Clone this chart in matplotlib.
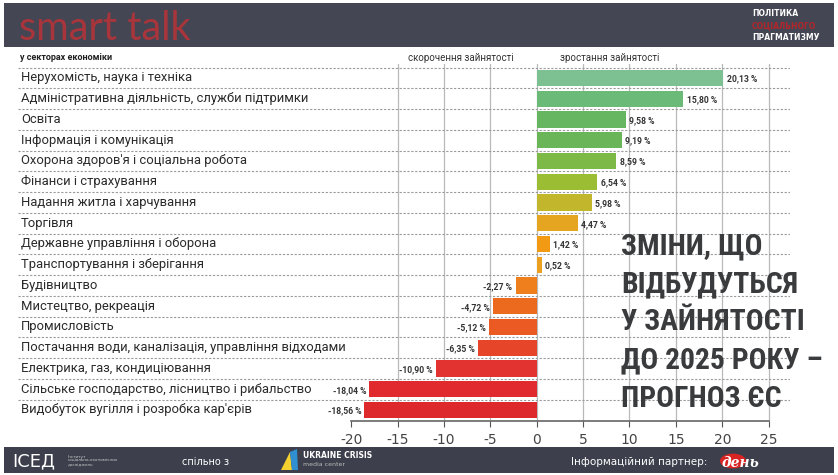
import matplotlib.pyplot as plt
from matplotlib import font_manager
from matplotlib.patches import Rectangle, Circle, Polygon

# Sector employment change to 2025 (EU forecast), %
sectors = [
    "Нерухомість, наука і техніка",
    "Адміністративна діяльність, служби підтримки",
    "Освіта",
    "Інформація і комунікація",
    "Охорона здоров'я і соціальна робота",
    "Фінанси і страхування",
    "Надання житла і харчування",
    "Торгівля",
    "Державне управління і оборона",
    "Транспортування і зберігання",
    "Будівництво",
    "Мистецтво, рекреація",
    "Промисловість",
    "Постачання води, каналізація, управління відходами",
    "Електрика, газ, кондиціювання",
    "Сільське господарство, лісництво і рибальство",
    "Видобуток вугілля і розробка кар'єрів",
]
values = [20.13, 15.80, 9.58, 9.19, 8.59, 6.54, 5.98, 4.47, 1.42, 0.52,
          -2.27, -4.72, -5.12, -6.35, -10.90, -18.04, -18.56]
bar_colors = ["#7dc192", "#6cba78", "#66b560", "#6ab558", "#7cb946", "#9bbd34",
              "#c2b62c", "#e5a520", "#f39a14", "#eba01f", "#ef7f1c", "#ec6a1e",
              "#ea5a22", "#e6452a", "#e33331", "#e02a2d", "#dd292c"]
xticks = [-20, -15, -10, -5, 0, 5, 10, 15, 20, 25]
title_lines = ["ЗМІНИ, ЩО", "ВІДБУДУТЬСЯ", "У ЗАЙНЯТОСТІ", "ДО 2025 РОКУ –", "ПРОГНОЗ ЄС"]

# pick a narrow font for the big title if one is installed
installed = {f.name for f in font_manager.fontManager.ttflist}
title_font, title_size = "Roboto", 17
for cand, size in [("Roboto Condensed", 21.3), ("Liberation Sans Narrow", 19),
                   ("DejaVu Sans Condensed", 17)]:
    if cand in installed:
        title_font, title_size = cand, size
        break

W, H = 838, 475
fig = plt.figure(figsize=(W / 100, H / 100), dpi=100)
fig.patch.set_facecolor("white")


def fx(x):
    return x / W


def fy(y):
    return 1 - y / H


def ftext(x, y, s, **kw):
    fig.text(fx(x), fy(y), s, transform=fig.transFigure, **kw)


# header band
fig.patches.append(Rectangle((fx(4), fy(47)), fx(830), 44 / H, transform=fig.transFigure,
                             facecolor="#444653", edgecolor="none", zorder=0))
ftext(19, 28, "smart talk", color="#a8353b", fontsize=28.5, family="Lato",
      fontweight="normal", va="center")
ftext(752, 14, "ПОЛІТИКА", color="white", fontsize=5.5, fontweight="bold", va="center")
ftext(752, 26, "СОЦІАЛЬНОГО", color="#b3262b", fontsize=5.5, fontweight="bold", va="center")
ftext(752, 38, "ПРАГМАТИЗМУ", color="white", fontsize=5.5, fontweight="bold", va="center")

# sub-header
ftext(20, 58, "у секторах економіки", color="#222222", fontsize=6.5, fontweight="bold",
      va="center", family="Roboto")
ftext(461, 58, "скорочення зайнятості", color="#333333", fontsize=7, va="center",
      ha="center", family="Roboto")
ftext(610, 58, "зростання зайнятості", color="#333333", fontsize=7, va="center",
      ha="center", family="Roboto")

# chart
ax = fig.add_axes([fx(18), fy(421), fx(790 - 18), (421 - 64) / H])
ypos = list(range(len(sectors)))
ax.barh(ypos, values, height=0.78, color=bar_colors, zorder=3)
ax.set_xlim(-55.9, 27.3)
ax.set_ylim(16.53, -0.67)

for g in xticks[1:]:
    ax.axvline(g, color="#b9b9b9", lw=0.9, zorder=1)
for b in range(len(sectors)):
    ax.axhline(b - 0.5, color="#9a9a9a", lw=0.8, ls=(0, (2, 1.5)), zorder=2)

for i, (name, v) in enumerate(zip(sectors, values)):
    ax.text(-55.6, i, name, va="center", ha="left", fontsize=9.4, color="#2a2a2a",
            family="Roboto")
    lab = f"{v:.2f}".replace(".", ",") + " %"
    if v >= 0:
        ax.text(v + 0.35, i + 0.05, lab, va="center", ha="left", fontsize=6.2,
                fontweight="bold", color="#333333", zorder=4, family="Roboto")
    else:
        ax.text(v - 0.35, i + 0.05, lab, va="center", ha="right", fontsize=6.2,
                fontweight="bold", color="#333333", zorder=4, family="Roboto")

for s in ["top", "right", "left", "bottom"]:
    ax.spines[s].set_visible(False)
ax.set_yticks([])
ax.set_xticks(xticks)
ax.set_xticklabels([str(t) for t in xticks], fontsize=10, color="#444444")
ax.tick_params(axis="x", length=4, width=0.8, color="#555555", pad=5)
ax.plot([-20, 25], [16.53, 16.53], color="#666666", lw=1.2, clip_on=False, zorder=5)

# big title
for k, line in enumerate(title_lines):
    ftext(621, 246 + k * 38.2, line, color="#3a3b3d", fontsize=title_size,
          fontweight="bold", va="center", ha="left",
          family=[title_font, "DejaVu Sans"], zorder=10)

# footer band
fig.patches.append(Rectangle((fx(4), fy(473)), fx(830), 26 / H, transform=fig.transFigure,
                             facecolor="#3d3f4c", edgecolor="none", zorder=0))
ftext(12, 461, "ІСЕД", color="white", fontsize=13, va="center")
ftext(68, 461, "Інститут\nсоціально-економічних\nдосліджень", color="#cccccc",
      fontsize=3, va="center", linespacing=1.1)
ftext(182, 462, "спільно з", color="white", fontsize=7, va="center")
fig.patches.append(Polygon([(fx(281), fy(470)), (fx(290), fy(452)), (fx(292), fy(470))],
                           closed=True, transform=fig.transFigure, facecolor="#f5d130",
                           edgecolor="none"))
fig.patches.append(Polygon([(fx(290), fy(452)), (fx(297), fy(449)), (fx(298), fy(470)),
                            (fx(292), fy(470))], closed=True, transform=fig.transFigure,
                           facecolor="#2f8fd0", edgecolor="none"))
ftext(303, 456, "UKRAINE CRISIS", color="white", fontsize=5.5, fontweight="bold", va="center")
ftext(303, 465, "media center", color="#bbbbbb", fontsize=4.5, va="center")
ftext(571, 462, "Інформаційний партнер:", color="white", fontsize=7.5, va="center")
fig.patches.append(Circle((fx(733), fy(461)), 13 / W, transform=fig.transFigure,
                          facecolor="#d92424", edgecolor="none"))
ftext(722, 463, "день", color="white", fontsize=10, fontweight="bold", fontstyle="italic",
      family="DejaVu Serif", va="center")

fig.savefig("out.png", dpi=100, facecolor=fig.get_facecolor())
